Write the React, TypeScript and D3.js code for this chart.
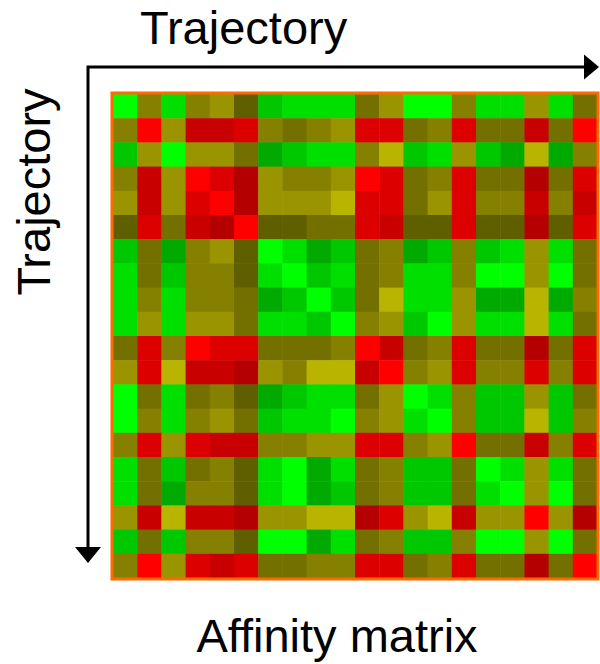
import React from "react";
import * as d3 from "d3";

// Affinity levels: 0 = strongest red (dissimilar) ... 12 = brightest green (similar)
const levelColors = [
  "#FF0000", "#DD0000", "#C80000", "#B40000",
  "#5F5F00", "#747000", "#868000", "#9A9400", "#B8B400",
  "#00AA00", "#00C800", "#00E000", "#00FF00",
];

const trajectories = d3.range(20).map((i) => `T${i + 1}`);

const affinity: number[][] = [
  [12, 6, 11, 6, 7, 4, 10, 11, 11, 11, 5, 7, 12, 12, 6, 11, 11, 7, 11, 5],
  [6, 0, 7, 2, 2, 1, 6, 5, 6, 7, 1, 1, 5, 6, 1, 5, 5, 2, 5, 0],
  [10, 7, 12, 7, 7, 5, 9, 10, 11, 11, 6, 8, 10, 11, 7, 10, 9, 8, 9, 6],
  [6, 2, 7, 0, 1, 3, 7, 6, 6, 7, 0, 1, 5, 6, 1, 5, 5, 3, 5, 1],
  [7, 2, 7, 1, 0, 3, 7, 7, 7, 8, 1, 1, 5, 7, 1, 6, 6, 2, 6, 2],
  [4, 1, 5, 2, 3, 0, 4, 4, 5, 5, 1, 2, 4, 4, 1, 4, 4, 3, 4, 1],
  [10, 5, 9, 6, 7, 4, 12, 11, 9, 10, 5, 6, 9, 10, 6, 10, 11, 7, 11, 5],
  [11, 5, 10, 6, 6, 4, 11, 12, 10, 11, 5, 6, 11, 11, 6, 12, 12, 7, 12, 5],
  [11, 6, 11, 6, 6, 5, 9, 10, 12, 10, 5, 8, 11, 11, 7, 9, 9, 8, 9, 6],
  [11, 7, 11, 7, 7, 5, 11, 11, 10, 12, 6, 7, 10, 12, 7, 11, 11, 8, 11, 5],
  [5, 1, 6, 0, 1, 1, 5, 5, 5, 6, 0, 2, 5, 6, 1, 5, 5, 3, 5, 1],
  [7, 1, 8, 2, 2, 3, 7, 6, 8, 8, 2, 0, 6, 7, 1, 6, 6, 1, 6, 1],
  [12, 5, 11, 5, 6, 4, 9, 10, 11, 11, 5, 7, 12, 11, 6, 10, 10, 7, 10, 5],
  [12, 6, 11, 6, 7, 5, 10, 11, 11, 12, 6, 7, 11, 12, 6, 10, 10, 8, 10, 6],
  [6, 1, 7, 1, 2, 2, 6, 6, 7, 7, 1, 1, 6, 7, 0, 5, 5, 2, 6, 1],
  [11, 5, 10, 5, 6, 4, 11, 12, 9, 11, 5, 6, 10, 10, 5, 12, 11, 7, 11, 5],
  [11, 5, 9, 6, 6, 4, 11, 12, 9, 10, 5, 6, 10, 10, 5, 11, 12, 7, 12, 5],
  [7, 2, 8, 2, 2, 3, 7, 7, 8, 8, 3, 1, 7, 8, 2, 7, 7, 0, 7, 3],
  [10, 5, 10, 6, 6, 4, 12, 12, 9, 11, 5, 6, 10, 10, 6, 12, 12, 7, 12, 5],
  [6, 0, 7, 1, 2, 1, 5, 5, 6, 6, 1, 1, 5, 6, 1, 5, 5, 3, 5, 0],
];

const axisTitleTop = "Trajectory";
const axisTitleLeft = "Trajectory";
const chartTitle = "Affinity matrix";

export default function App() {
  const W = 600;
  const H = 664;
  const x = d3.scaleBand<string>().domain(trajectories).range([113, 597]);
  const y = d3.scaleBand<string>().domain(trajectories).range([94, 578]);
  const color = d3
    .scaleLinear<string>()
    .domain(d3.range(levelColors.length))
    .range(levelColors)
    .interpolate(d3.interpolateRgb);

  const font = "'Liberation Sans', Arial, Helvetica, sans-serif";
  const ax = 88;
  const ay = 67;

  return (
    <svg
      width={W}
      height={H}
      style={{ position: "absolute", left: 0, top: 0, background: "#fff" }}
    >
      <text x={140} y={44} fontFamily={font} fontSize={47} fill="#000">
        {axisTitleTop}
      </text>
      <text
        transform={`translate(50,192) rotate(-90)`}
        textAnchor="middle"
        fontFamily={font}
        fontSize={47}
        fill="#000"
      >
        {axisTitleLeft}
      </text>
      <text x={337} y={652} textAnchor="middle" fontFamily={font} fontSize={47} fill="#000">
        {chartTitle}
      </text>

      {/* axes arrows */}
      <path d={`M${ax},${ay + 1.5}V548 M${ax - 1.5},${ay}H584`} stroke="#000" strokeWidth={3} fill="none" />
      <path d={`M584,${ay - 12.5}L599,${ay}L584,${ay + 12.5}Z`} fill="#000" />
      <path d={`M${ax - 13},547L${ax},563L${ax + 13},547Z`} fill="#000" />

      <g>
        {affinity.map((row, i) =>
          row.map((v, j) => (
            <rect
              key={`${i}-${j}`}
              x={x(trajectories[j])}
              y={y(trajectories[i])}
              width={x.bandwidth() + 0.5}
              height={y.bandwidth() + 0.5}
              fill={color(v)}
            />
          ))
        )}
      </g>
      <rect x={112} y={93} width={486} height={486} fill="none" stroke="#FF6A00" strokeWidth={3} />
    </svg>
  );
}
